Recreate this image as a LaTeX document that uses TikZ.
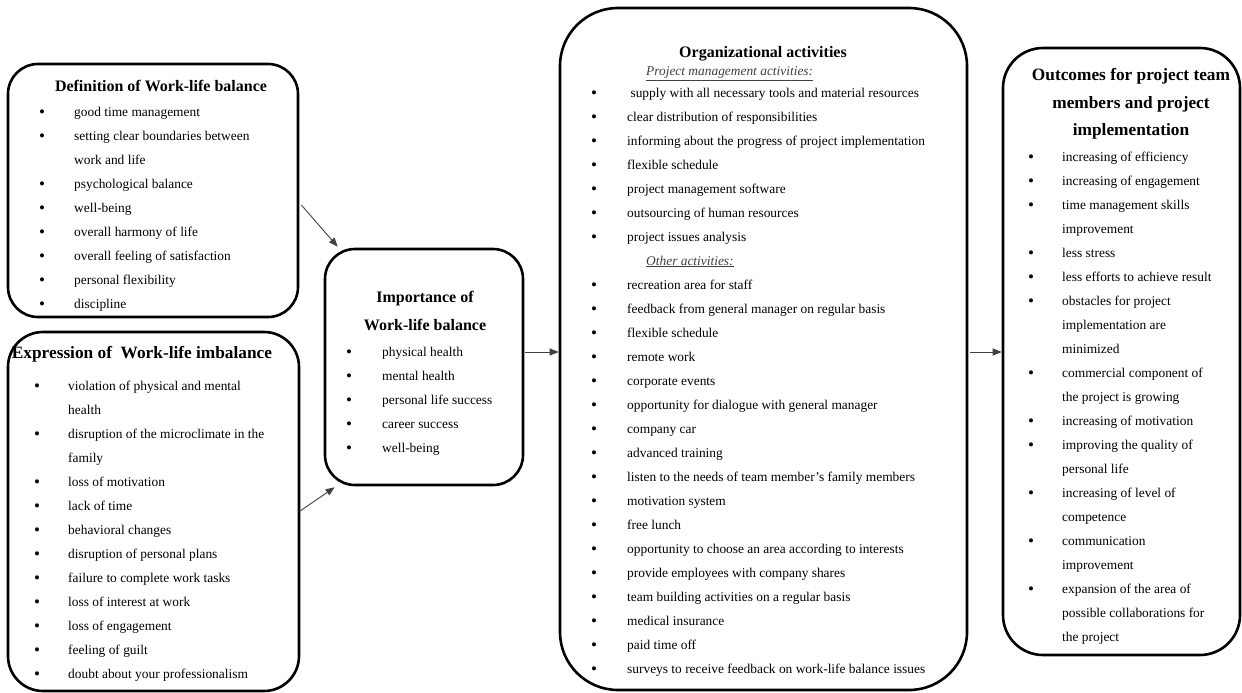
\documentclass[tikz,border=0pt]{standalone}
\usepackage{fontspec}
\setmainfont{Liberation Serif}
\usetikzlibrary{arrows.meta}
\begin{document}
\begin{tikzpicture}[x=1pt,y=-1pt,
  box/.style={draw=black, line width=2.6pt, rounded corners=#1, inner sep=0pt, fill=white},
  txt/.style={anchor=base west, inner sep=0pt, text=black, font=\fontsize{13.4}{16}\selectfont},
  bul/.style={anchor=base, inner sep=0pt, text=black, font=\fontsize{17}{20}\selectfont},
  ttl/.style={anchor=base, inner sep=0pt, text=black, font=\bfseries\fontsize{16}{19}\selectfont},
  bigttl/.style={ttl, font=\bfseries\fontsize{17.3}{20}\selectfont},
  sub/.style={anchor=base west, inner sep=0pt, text=black!75, font=\itshape\fontsize{13.4}{16}\selectfont},
  arr/.style={draw=black!75, line width=0.9pt, -{Triangle[length=9pt,width=7pt]}}]
\useasboundingbox (0,0) rectangle (1242,693);
\fill[white] (0,0) rectangle (1242,693);

% boxes
\node[box=30pt, minimum width=290pt, minimum height=253pt] (b1) at (153,190.5) {};
\node[box=35pt, minimum width=291pt, minimum height=359pt] (b2) at (153.5,511.5) {};
\node[box=30pt, minimum width=198pt, minimum height=236pt] (b3) at (424,367) {};
\node[box=58pt, minimum width=407pt, minimum height=682pt] (b4) at (763.5,349) {};
\node[box=40pt, minimum width=237pt, minimum height=607pt] (b5) at (1121.5,351.5) {};

% box 1
\node[ttl] (t1) at (161,92) {Definition of Work-life balance};
\foreach \t [count=\i] in {good time management, setting clear boundaries between, work and life, psychological balance, well-being, overall harmony of life, overall feeling of satisfaction, personal flexibility, discipline}
  \node[txt] (d\i) at (74,92+24*\i) {\t};
\foreach \i in {1,2,4,5,6,7,8,9}
  \node[bul] (db\i) at (42,93+24*\i) {\textbullet};

% box 2
\node[bigttl] (t2) at (142,358) {Expression of\ \ Work-life imbalance};
\foreach \t [count=\i] in {violation of physical and mental, health, disruption of the microclimate in the, family, loss of motivation, lack of time, behavioral changes, disruption of personal plans, failure to complete work tasks, loss of interest at work, loss of engagement, feeling of guilt, doubt about your professionalism}
  \node[txt] (e\i) at (68,366+24*\i) {\t};
\foreach \i in {1,3,5,6,7,8,9,10,11,12,13}
  \node[bul] (eb\i) at (37,367+24*\i) {\textbullet};

% box 3
\node[ttl] (t3a) at (425,302) {Importance of};
\node[ttl] (t3b) at (425,330) {Work-life balance};
\foreach \t [count=\i] in {physical health, mental health, personal life success, career success, well-being}
  \node[txt] (m\i) at (382,332+24*\i) {\t};
\foreach \i in {1,...,5}
  \node[bul] (mb\i) at (349,333+24*\i) {\textbullet};

% box 4
\node[ttl] (t4) at (763,58) {Organizational activities};
\node[sub] (s4a) at (646,76) {\underline{Project management activities:}};
\foreach \t [count=\i] in {\ supply with all necessary tools and material resources, clear distribution of responsibilities, informing about the progress of project implementation, flexible schedule, project management software, outsourcing of human resources, project issues analysis}
  {\node[txt] (p\i) at (627,73+24*\i) {\t};
   \node[bul] (pb\i) at (594,74+24*\i) {\textbullet};}
\node[sub] (s4b) at (646,265) {\underline{Other activities:}};
\foreach \t [count=\i] in {recreation area for staff, feedback from general manager on regular basis, flexible schedule, remote work, corporate events, opportunity for dialogue with general manager, company car, advanced training, listen to the needs of team member's family members, motivation system, free lunch, opportunity to choose an area according to interests, provide employees with company shares, team building activities on a regular basis, medical insurance, paid time off, surveys to receive feedback on work-life balance issues}
  {\node[txt] (o\i) at (627,265+24*\i) {\t};
   \node[bul] (ob\i) at (594,266+24*\i) {\textbullet};}

% box 5
\node[bigttl] (t5a) at (1131,81) {Outcomes for project team};
\node[bigttl] (t5b) at (1131,108) {members and project};
\node[bigttl] (t5c) at (1131,135) {implementation};
\foreach \t [count=\i] in {increasing of efficiency, increasing of engagement, time management skills, improvement, less stress, less efforts to achieve result, obstacles for project, implementation are, minimized, commercial component of, the project is growing, increasing of motivation, improving the quality of, personal life, increasing of level of, competence, communication, improvement, expansion of the area of, possible collaborations for, the project}
  \node[txt] (r\i) at (1062,137+24*\i) {\t};
\foreach \i in {1,2,3,5,6,7,10,12,13,15,17,19}
  \node[bul] (rb\i) at (1031,138+24*\i) {\textbullet};

% connectors
\draw[arr] ([xshift=2pt,yshift=-14.5pt]b1.east) -- ([xshift=14pt,yshift=1pt]b3.north west);
\draw[arr] ([xshift=-1pt]b2.east) -- ([xshift=11pt,yshift=-1pt]b3.south west);
\draw[arr] ([xshift=1pt,yshift=15pt]b3.east) -- ([yshift=-3pt]b4.west);
\draw[arr] ([xshift=2pt,yshift=-3pt]b4.east) -- ([yshift=-0.5pt]b5.west);
\end{tikzpicture}
\end{document}
